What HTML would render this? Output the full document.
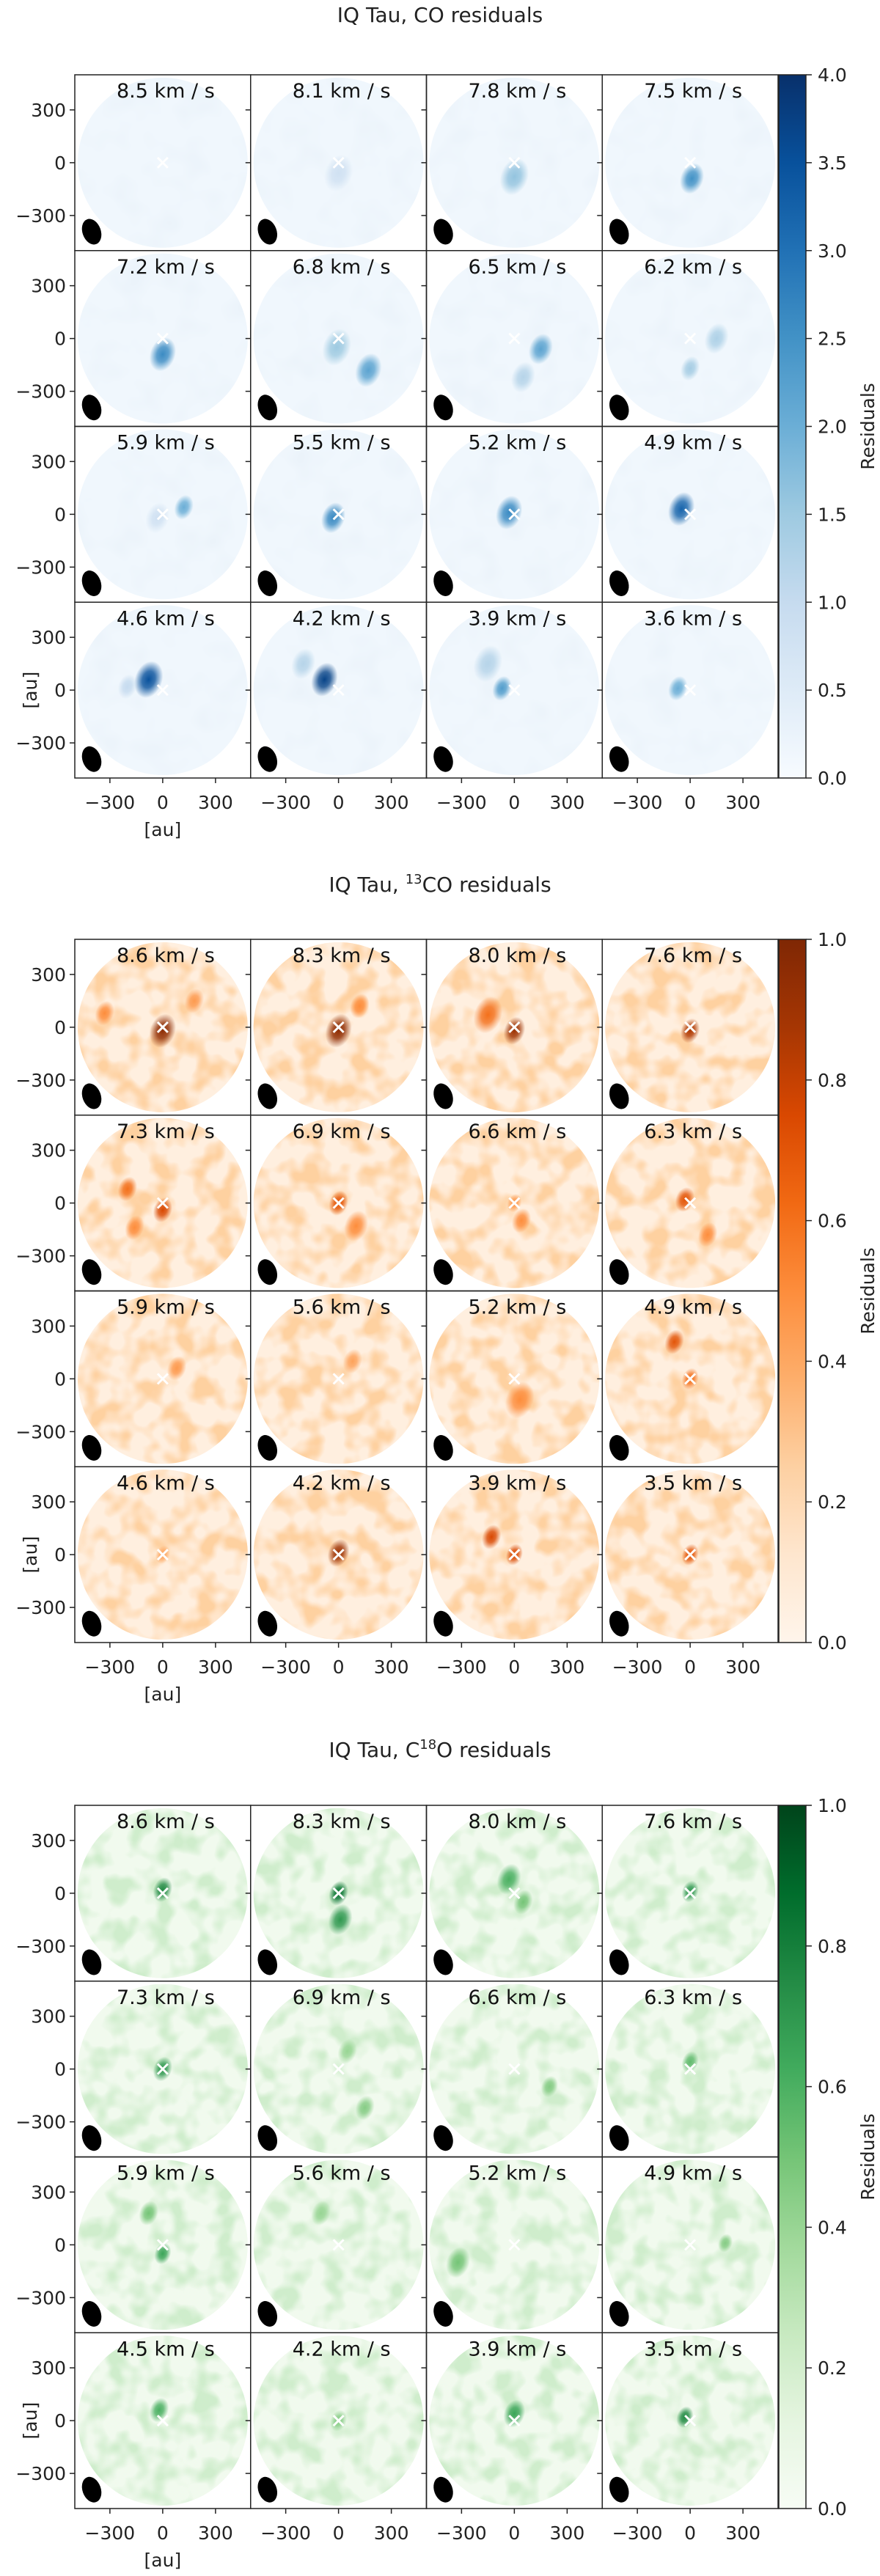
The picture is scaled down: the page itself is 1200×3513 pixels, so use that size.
<!DOCTYPE html>
<html><head><meta charset="utf-8">
<style>
html,body{margin:0;padding:0;background:#fff;}
svg{display:block;font-family:"DejaVu Sans","Liberation Sans",sans-serif;}
</style></head>
<body>
<svg id="fig" width="1200" height="3513" viewBox="0 0 1200 3513" xmlns="http://www.w3.org/2000/svg">
<defs id="defs"></defs>
</svg>
<script>
// ---- data ----
const coLabels = ["8.5","8.1","7.8","7.5","7.2","6.8","6.5","6.2","5.9","5.5","5.2","4.9","4.6","4.2","3.9","3.6"];
const co13Labels = ["8.6","8.3","8.0","7.6","7.3","6.9","6.6","6.3","5.9","5.6","5.2","4.9","4.6","4.2","3.9","3.5"];
const c18Labels = ["8.6","8.3","8.0","7.6","7.3","6.9","6.6","6.3","5.9","5.6","5.2","4.9","4.5","4.2","3.9","3.5"];
// blobs: [x_au, y_au, value, size_au]
const coBlobs = [
 [],
 [[0,-60,0.8,60]],
 [[0,-80,1.6,60]],
 [[10,-90,2.5,50]],
 [[0,-90,2.6,55]],
 [[-10,-50,1.5,60],[170,-180,2.2,55]],
 [[150,-60,2.2,50],[50,-220,1.2,50]],
 [[150,0,1.3,50],[0,-170,1.4,40]],
 [[120,40,2.0,40],[-30,-20,0.8,50]],
 [[-30,-20,2.6,50]],
 [[-30,10,2.6,55]],
 [[-50,30,3.2,55]],
 [[-80,60,3.5,60],[-200,20,1.0,40]],
 [[-80,60,3.7,55],[-200,150,1.2,50]],
 [[-70,10,2.3,40],[-150,150,1.2,60]],
 [[-70,10,2.0,40]]
];
const co13Blobs = [
 [[0,-20,0.95,55],[-330,80,0.5,40],[180,150,0.45,40]],
 [[0,-20,0.95,55],[120,120,0.5,40]],
 [[0,-20,0.9,45],[-150,70,0.6,60]],
 [[0,-20,0.85,40]],
 [[0,-40,0.75,40],[-200,80,0.6,40],[-160,-140,0.5,40]],
 [[0,0,0.7,40],[100,-130,0.5,50]],
 [[40,-100,0.5,40],[0,0,0.45,30]],
 [[-30,20,0.7,40],[100,-180,0.5,40]],
 [[80,60,0.45,40]],
 [[80,100,0.42,40]],
 [[30,-120,0.5,60]],
 [[-90,210,0.7,40],[0,0,0.6,35]],
 [[0,0,0.4,30]],
 [[0,10,0.9,45]],
 [[-130,100,0.75,40],[0,0,0.75,35]],
 [[0,0,0.7,35]]
];
const c18Blobs = [
 [[0,20,0.75,40]],
 [[0,0,0.85,40],[10,-150,0.7,50]],
 [[-30,80,0.6,50],[50,-50,0.5,40]],
 [[0,10,0.7,35]],
 [[0,0,0.7,40]],
 [[50,100,0.4,40],[150,-220,0.45,40]],
 [[200,-100,0.45,35]],
 [[0,40,0.55,35]],
 [[0,-50,0.65,35],[-80,180,0.5,40]],
 [[-100,180,0.4,40]],
 [[-320,-100,0.5,50]],
 [[200,10,0.45,30]],
 [[-20,60,0.6,40]],
 [[0,0,0.45,35]],
 [[0,40,0.65,45]],
 [[-30,20,0.75,35]]
];
const coTicks = ["0.0","0.5","1.0","1.5","2.0","2.5","3.0","3.5","4.0"];
const fracTicks = ["0.0","0.2","0.4","0.6","0.8","1.0"];
const axisTicks = [-300,0,300];

const BLUES=['#f7fbff','#deebf7','#c6dbef','#9ecae1','#6baed6','#4292c6','#2171b5','#08519c','#08306b'];
const ORANGES=['#fff5eb','#fee6ce','#fdd0a2','#fdae6b','#fd8d3c','#f16913','#d94801','#a63603','#7f2704'];
const GREENS=['#f7fcf5','#e5f5e0','#c7e9c0','#a1d99b','#74c476','#41ab5d','#238b45','#006d2c','#00441b'];

const sections=[
 {name:'co',title:[['IQ Tau, CO residuals',null]],titleY:30,top:102,vmax:4,ticks:coTicks,cmap:BLUES,labels:coLabels,blobs:coBlobs,base:0.035,tex:0.19,m:2,b:-0.9,freq:0.025},
 {name:'13co',title:[['IQ Tau, ',null],['13','sup'],['CO residuals',null]],titleY:1216,top:1281,vmax:1,ticks:fracTicks,cmap:ORANGES,labels:co13Labels,blobs:co13Blobs,base:0.05,tex:0.42,m:3.5,b:-1.45,freq:0.034},
 {name:'c18o',title:[['IQ Tau, C',null],['18','sup'],['O residuals',null]],titleY:2396,top:2462,vmax:1,ticks:fracTicks,cmap:GREENS,labels:c18Labels,blobs:c18Blobs,base:0.04,tex:0.38,m:3.5,b:-1.5,freq:0.034}
];

// ---- helpers ----
const NS='http://www.w3.org/2000/svg';
const svg=document.getElementById('fig');
const defs=document.getElementById('defs');
function mk(tag,attrs,parent){const e=document.createElementNS(NS,tag);for(const k in attrs)e.setAttribute(k,attrs[k]);(parent||svg).appendChild(e);return e;}
function hex2rgb(h){return [parseInt(h.substr(1,2),16),parseInt(h.substr(3,2),16),parseInt(h.substr(5,2),16)];}
function cmapRGB(cm,t){t=Math.max(0,Math.min(1,t));const p=t*(cm.length-1);const i=Math.min(cm.length-2,Math.floor(p));const f=p-i;const a=hex2rgb(cm[i]),b=hex2rgb(cm[i+1]);return a.map((v,k)=>Math.round(v+(b[k]-v)*f));}
function cmapColor(cm,t){return 'rgb('+cmapRGB(cm,t).join(',')+')';}

const X0=102, GRID=959, PW=GRID/4, SCALE=72/300, DISC=116;
let gid=0;

sections.forEach((S,si)=>{
  const g=mk('g',{});
  
  
  const t=mk('text',{x:600,y:S.titleY,'text-anchor':'middle','font-size':28,fill:'#222'},g);
  
  
  let prevSup=false;
  S.title.forEach(([s,k])=>{const ts=mk('tspan',k?{'font-size':18,dy:-11}:{dy:prevSup?11:0},t);ts.textContent=s;prevSup=!!k;});
  const col=cmapRGB(S.cmap,S.tex).map(v=>v/255);

  for(let p=0;p<16;p++){
    const r=Math.floor(p/4),c=p%4;
    const px=X0+c*PW, py=S.top+r*PW, cx=px+PW/2, cy=py+PW/2;
    const f=mk('filter',{id:'tex'+si+'_'+p,x:0,y:0,width:1,height:1},defs);
    mk('feTurbulence',{type:'fractalNoise',baseFrequency:S.freq,numOctaves:2,seed:si*31+p*7+3},f);
    mk('feColorMatrix',{type:'matrix',values:`0 0 0 0 ${col[0]} 0 0 0 0 ${col[1]} 0 0 0 0 ${col[2]} ${S.m} 0 0 0 ${S.b}`},f);
    const pg=mk('g',{},g);
    
    
    const cid='clip'+si+'_'+p;
    const cp=mk('clipPath',{id:cid},defs);
    mk('rect',{x:px,y:py,width:PW,height:PW},cp);
    const cid2='disc'+si+'_'+p;
    const cp2=mk('clipPath',{id:cid2},defs);
    mk('circle',{cx:cx,cy:cy,r:DISC},cp2);
    const inner=mk('g',{'clip-path':'url(#'+cid+')'},pg);
    const dg=mk('g',{'clip-path':'url(#'+cid2+')'},inner);
    const disc=mk('circle',{cx:cx,cy:cy,r:DISC,fill:cmapColor(S.cmap,S.base)},dg);
    
    
    mk('rect',{x:px,y:py,width:PW,height:PW,filter:'url(#tex'+si+'_'+p+')'},dg);
    S.blobs[p].forEach((b)=>{
      const [bx,by,bv,bs]=b;
      const id='rg'+(gid++);
      const rg=mk('radialGradient',{id:id},defs);
      const colr=cmapColor(S.cmap,bv/S.vmax);
      mk('stop',{offset:'0','stop-color':colr,'stop-opacity':1},rg);
      mk('stop',{offset:'0.45','stop-color':colr,'stop-opacity':0.8},rg);
      mk('stop',{offset:'1','stop-color':colr,'stop-opacity':0},rg);
      const ex=cx+bx*SCALE, ey=cy-by*SCALE;
      const e=mk('ellipse',{cx:ex,cy:ey,rx:bs*SCALE*1.3,ry:bs*SCALE*1.8,fill:'url(#'+id+')',transform:`rotate(20 ${ex} ${ey})`},dg);
      
      
    });
    const beam=mk('ellipse',{cx:px+23,cy:py+214,rx:12.5,ry:18,fill:'#000',transform:`rotate(-20 ${px+23} ${py+214})`},pg);
    
    
    const cr=mk('path',{d:`M${cx-7},${cy-7}L${cx+7},${cy+7}M${cx-7},${cy+7}L${cx+7},${cy-7}`,stroke:'#fff','stroke-width':3},pg);
    
    
    const lb=mk('text',{x:cx+4,y:py+31,'text-anchor':'middle','font-size':27,fill:'#111'},pg);
    lb.textContent=S.labels[p]+' km / s';
    
    
    mk('rect',{x:px,y:py,width:PW,height:PW,fill:'none',stroke:'#222','stroke-width':1.5},pg);
    axisTicks.forEach(v=>{
      const yy=cy-v*SCALE;
      mk('line',{x1:px-7,x2:px,y1:yy,y2:yy,stroke:'#222','stroke-width':1.5},pg);
      if(c===0){const tl=mk('text',{x:px-12,y:yy+9,'text-anchor':'end','font-size':25,fill:'#222'},pg);tl.textContent=(v<0?'\u2212':'')+Math.abs(v);
        
        }
    });
    if(r===3){
      axisTicks.forEach(v=>{
        const xx=cx+v*SCALE;
        mk('line',{x1:xx,x2:xx,y1:py+PW,y2:py+PW+7,stroke:'#222','stroke-width':1.5},pg);
        const tl=mk('text',{x:xx,y:py+PW+42,'text-anchor':'middle','font-size':25,fill:'#222'},pg);tl.textContent=(v<0?'\u2212':'')+Math.abs(v);
        
        
      });
    }
    if(r===3&&c===0){
      const yl=mk('text',{x:0,y:0,'text-anchor':'middle','font-size':25,fill:'#222',transform:`translate(50 ${cy}) rotate(-90)`},pg);
      yl.textContent='[au]';
      
      
      const xl=mk('text',{x:cx,y:py+PW+79,'text-anchor':'middle','font-size':25,fill:'#222'},pg);
      xl.textContent='[au]';
      
      
    }
  }
  const lg=mk('linearGradient',{id:'cb'+si,x1:0,y1:1,x2:0,y2:0},defs);
  S.cmap.forEach((h,i)=>mk('stop',{offset:i/(S.cmap.length-1),'stop-color':h},lg));
  const cbx=1062, cbw=37;
  const cb=mk('rect',{x:cbx,y:S.top,width:cbw,height:GRID,fill:'url(#cb'+si+')',stroke:'#222','stroke-width':1.5},g);
  
  
  S.ticks.forEach(tk=>{
    const yy=S.top+GRID-(parseFloat(tk)/S.vmax)*GRID;
    mk('line',{x1:cbx+cbw,x2:cbx+cbw+8,y1:yy,y2:yy,stroke:'#222','stroke-width':1.5},g);
    const tl=mk('text',{x:1115,y:yy+9,'font-size':25,fill:'#222'},g);tl.textContent=tk;
    
    
  });
  const rl=mk('text',{x:0,y:0,'text-anchor':'middle','font-size':25,fill:'#222',transform:`translate(1192 ${S.top+GRID/2}) rotate(-90)`},g);
  rl.textContent='Residuals';
  
  
});
</script>
</body></html>
